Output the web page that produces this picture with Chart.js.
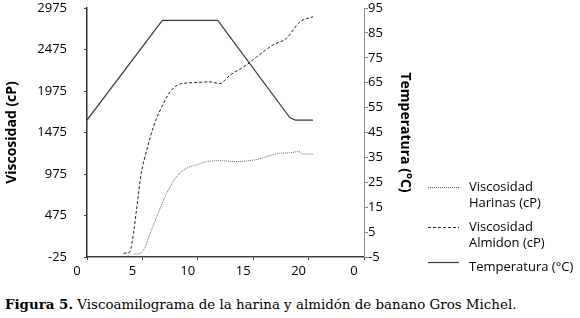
<!DOCTYPE html>
<html>
<head>
<meta charset="utf-8">
<script src="https://cdn.jsdelivr.net/npm/chart.js@4"></script>
<style>
  body { margin: 0; background: #fff; }
  #wrap { width: 580px; height: 318px; position: relative; }
  canvas { display: block; }
  .caption {
    position: absolute; left: 5px; top: 296px;
    font: 13.4px "DejaVu Serif", serif; color: #000; white-space: nowrap;
  }
</style>
</head>
<body>
<div id="wrap">
  <canvas id="viscoChart" width="580" height="285"></canvas>
  <div class="caption"><b>Figura 5.</b> Viscoamilograma de la harina y almidón de banano Gros Michel.</div>
</div>
<script>
// Viscosidad harinas (cP) vs tiempo (min)
const tiempoHarina = [4.2, 4.9, 5.2, 5.7, 6.3, 6.9, 7.5, 8.1, 9.0, 9.9, 10.8, 12.0, 13.5, 15.3, 17.4, 18.3, 19.1, 19.5, 20.4];
const viscHarina = [8, 27, 80, 260, 460, 660, 820, 945, 1045, 1085, 1125, 1135, 1125, 1150, 1225, 1230, 1245, 1215, 1215];

// Viscosidad almidon (cP) vs tiempo (min)
const tiempoAlmidon = [3.3, 3.9, 4.0, 4.2, 4.5, 4.9, 5.4, 6.0, 6.9, 7.5, 8.4, 9.6, 11.1, 12.0, 12.9, 14.4, 15.3, 16.8, 18.0, 19.2, 20.4];
const viscAlmidon = [20, 40, 100, 260, 580, 985, 1265, 1545, 1825, 1965, 2060, 2075, 2085, 2065, 2165, 2290, 2385, 2530, 2610, 2805, 2870];

// Temperatura (°C) vs tiempo (min)
const tiempoTemp = [0, 6.8, 11.8, 18.3, 18.8, 20.4];
const temperatura = [50, 90, 90, 51, 50, 50];

// eje x
const xTicks = [0, 5, 10, 15, 20, 25];
const xTickLabels = ["0", "5", "10", "15", "20", "0"];

const seriesLabels = ["Viscosidad\nHarinas (cP)", "Viscosidad\nAlmidon (cP)", "Temperatura (°C)"];

const toPoints = (xs, ys) => xs.map((x, i) => ({ x: x, y: ys[i] }));

const tickFont = { family: "'Open Sans', sans-serif", size: 13 };
const titleFont = { family: "'Open Sans', sans-serif", size: 14, weight: "bold" };

// legend drawn by hand, to the right of the temperature axis
const legendY = [187, 227, 267];
const legendSampleY = [187, 227, 262];

Chart.register({
  id: "sideLegend",
  afterDraw(chart) {
    const { ctx } = chart;
    ctx.save();
    ctx.font = "13px 'Open Sans', sans-serif";
    ctx.fillStyle = "#000";
    ctx.textBaseline = "middle";
    ctx.textAlign = "left";
    chart.data.datasets.forEach((ds, i) => {
      ctx.strokeStyle = ds.borderColor;
      ctx.lineWidth = ds.borderWidth;
      ctx.setLineDash(ds.borderDash || []);
      ctx.beginPath();
      ctx.moveTo(428, legendSampleY[i] + 0.5);
      ctx.lineTo(459, legendSampleY[i] + 0.5);
      ctx.stroke();
      ds.label.split("\n").forEach((line, j) => {
        ctx.fillText(line, 469, legendY[i] + j * 16);
      });
    });
    ctx.restore();
  },
});

// fixed axis box sizes so the plot area sits where it does in the figure
const fitVertical = (width) => (scale) => {
  scale.width = width;
  scale.paddingTop = 8;
  scale.paddingBottom = 0;
};

const ctx = document.getElementById("viscoChart").getContext("2d");

new Chart(ctx, {
  type: "line",
  data: {
    datasets: [
      {
        label: seriesLabels[0],
        data: toPoints(tiempoHarina, viscHarina),
        yAxisID: "y",
        borderColor: "#666666",
        borderWidth: 1,
        borderDash: [1, 1],
        pointRadius: 0,
        cubicInterpolationMode: "monotone",
      },
      {
        label: seriesLabels[1],
        data: toPoints(tiempoAlmidon, viscAlmidon),
        yAxisID: "y",
        borderColor: "#222222",
        borderWidth: 1,
        borderDash: [3, 2],
        pointRadius: 0,
        cubicInterpolationMode: "monotone",
      },
      {
        label: seriesLabels[2],
        data: toPoints(tiempoTemp, temperatura),
        yAxisID: "y2",
        borderColor: "#3a3a3a",
        borderWidth: 1.2,
        pointRadius: 0,
        tension: 0,
      },
    ],
  },
  options: {
    responsive: false,
    animation: false,
    devicePixelRatio: 1,
    layout: { padding: { top: 0, right: 163, left: 0, bottom: 0 } },
    plugins: {
      legend: { display: false },
      tooltip: { enabled: false },
    },
    scales: {
      x: {
        type: "linear",
        min: 0,
        max: 25,
        afterBuildTicks: (scale) => {
          scale.ticks = xTicks.map((v) => ({ value: v }));
        },
        afterFit: (scale) => {
          scale.height = 28;
        },
        ticks: {
          font: tickFont,
          color: "#000",
          padding: 3,
          labelOffset: -10,
          maxRotation: 0,
          callback: (value) => xTickLabels[xTicks.indexOf(value)],
        },
        grid: { drawOnChartArea: false, tickLength: 3, color: "#404040" },
        border: { color: "#404040", width: 1.5 },
      },
      y: {
        position: "left",
        min: -25,
        max: 2975,
        afterFit: fitVertical(87),
        ticks: { stepSize: 500, font: tickFont, color: "#000", padding: 17, callback: (value) => String(value) },
        grid: { drawOnChartArea: false, tickLength: 3, color: "#404040" },
        border: { color: "#303030", width: 1.5 },
        title: { display: true, text: "Viscosidad (cP)", font: titleFont, color: "#000" },
      },
      y2: {
        position: "right",
        min: -5,
        max: 95,
        afterFit: fitVertical(53),
        ticks: { stepSize: 10, font: tickFont, color: "#000", padding: 0 },
        grid: { drawOnChartArea: false, tickLength: 4, color: "#808080" },
        border: { color: "#8c8c8c", width: 1 },
        title: { display: true, text: "Temperatura (°C)", font: titleFont, color: "#000" },
      },
    },
  },
});
</script>
</body>
</html>
